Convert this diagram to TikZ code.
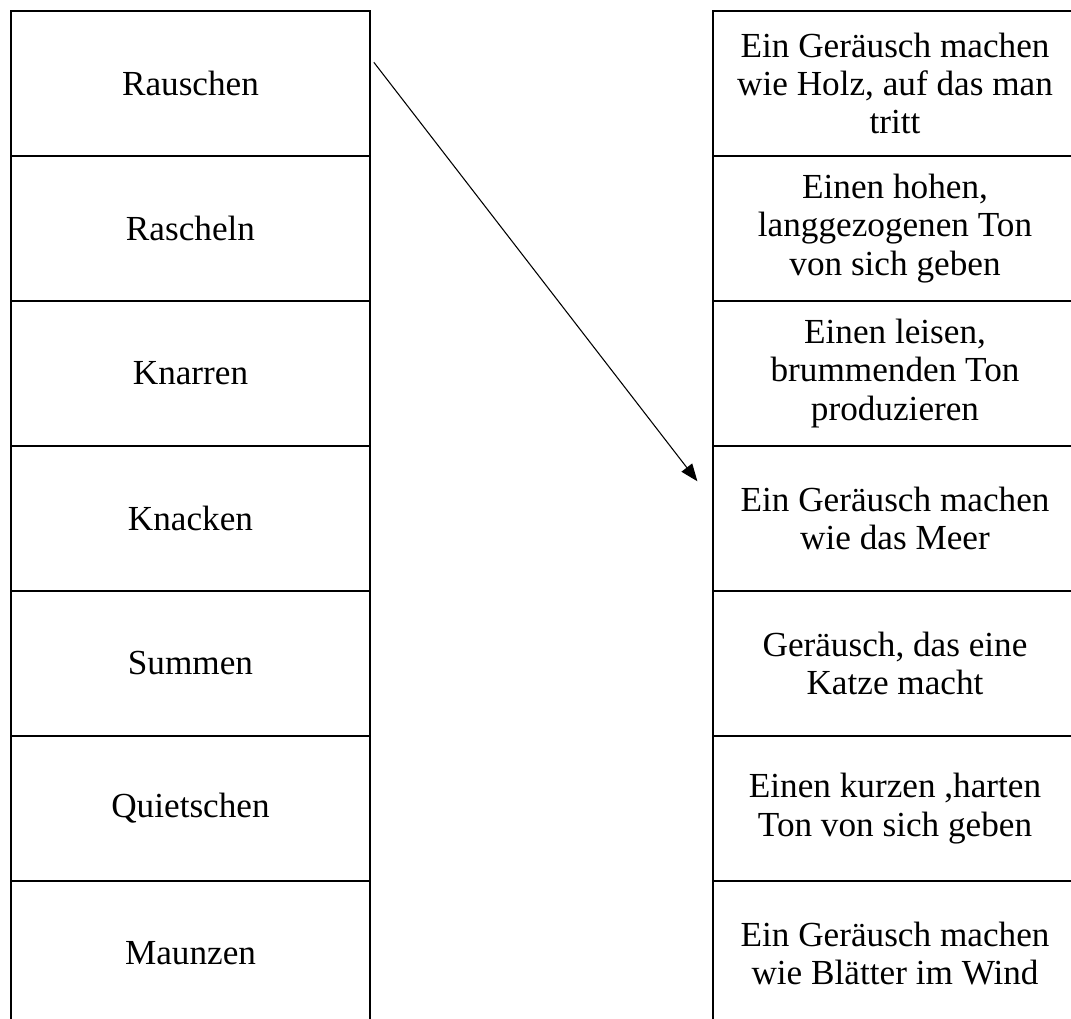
\documentclass[tikz,border=0pt]{standalone}
\usepackage{fontspec}
\setmainfont{Liberation Serif}
\usetikzlibrary{arrows.meta}
\tikzset{
  lcell/.style={draw,line width=0.5pt,minimum width=134.6pt,minimum height=54.4pt,
    inner sep=0pt,align=center,font=\fontsize{13.2}{14.4}\selectfont},
  rcell/.style={lcell,minimum width=136.5pt},
}
\begin{document}
\begin{tikzpicture}[x=0.375pt,y=-0.375pt]
  \clip (0,0) rectangle (1071,1018);
  \def\h{145}%row height
  % left column: words
  \foreach \i/\t in {1/Rauschen,2/Rascheln,3/Knarren,4/Knacken,5/Summen,6/Quietschen,7/Maunzen}
    \node[lcell] (l\i) at (190.5,{11+\h*(\i-0.5)}) {\t};
  % right column: meanings
  \foreach \i/\t in {1/{Ein Geräusch machen\\wie Holz, auf das man\\tritt},
                     2/{Einen hohen,\\langgezogenen Ton\\von sich geben},
                     3/{Einen leisen,\\brummenden Ton\\produzieren},
                     4/{Ein Geräusch machen\\wie das Meer},
                     5/{Geräusch, das eine\\Katze macht},
                     6/{Einen kurzen ,harten\\Ton von sich geben},
                     7/{Ein Geräusch machen\\wie Blätter im Wind}}
    \node[rcell] (r\i) at (895,{11+\h*(\i-0.5)}) {\t};
  \coordinate (from) at ([xshift=1.2pt,yshift=-19.5pt]l1.north east);
  \coordinate (to) at ([xshift=-5.6pt,yshift=-13.5pt]r4.north west);
  \draw[->,>={Triangle[length=6.5pt,width=5pt]},line width=0.4pt] (from)--(to);
\end{tikzpicture}
\end{document}
